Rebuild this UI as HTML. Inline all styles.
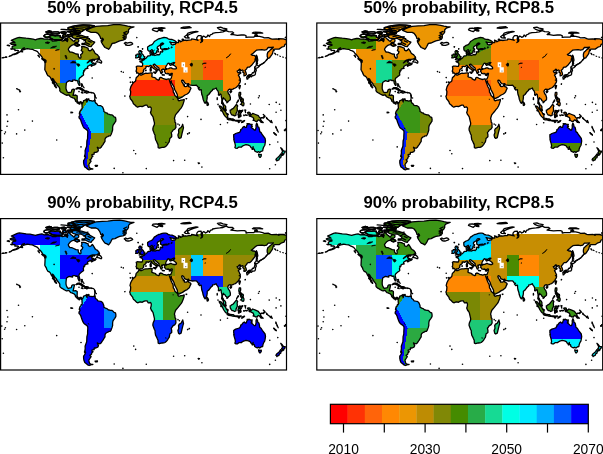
<!DOCTYPE html><html><head><meta charset="utf-8"><title>Time of emergence maps</title><style>html,body{margin:0;padding:0;background:#fff;overflow:hidden}svg{display:block}text{font-family:"Liberation Sans",Arial,sans-serif}</style></head><body>
<svg width="603" height="454" viewBox="0 0 603 454">
<defs><clipPath id="land"><path clip-rule="evenodd" d="M9.5,20.3L12.3,19.3L14.3,19.6L13.1,18.6L10.7,17.4L13.5,16.2L16.7,14.8L18.7,14.3L22.2,14.8L25.4,15.2L29.4,15.6L32.6,16.2L34.9,16.8L36.5,16.2L39.7,15.5L41.3,15.3L43.7,16.2L46.9,15.9L50.0,16.7L51.6,17.5L51.6,18.0L55.6,17.9L57.2,17.4L59.6,17.2L61.9,18.0L65.1,17.2L66.7,18.6L67.1,17.2L66.7,15.7L67.5,14.1L68.3,13.8L69.5,15.1L70.7,16.4L71.5,16.9L72.7,18.0L73.5,18.5L74.3,17.2L75.4,16.2L77.4,16.0L78.2,17.2L78.0,18.5L77.0,19.5L74.7,19.5L74.3,20.6L73.1,21.7L71.5,22.1L69.9,23.2L68.7,24.5L67.7,26.1L68.1,27.4L69.3,29.0L71.1,29.1L73.1,29.9L75.4,31.0L77.6,31.2L77.7,33.4L78.6,34.5L79.0,35.2L80.2,35.0L80.4,33.6L80.0,31.8L81.6,30.5L82.2,28.7L80.6,27.4L81.4,25.6L81.0,23.7L83.0,23.7L84.6,24.0L86.2,24.7L87.4,25.1L87.8,27.1L89.3,27.9L90.7,27.1L91.7,25.8L92.9,27.4L93.7,28.7L94.5,30.3L95.7,31.1L96.9,31.8L97.7,32.9L98.6,33.9L98.1,35.0L96.1,36.2L94.1,36.4L92.1,36.3L89.7,37.1L87.8,38.6L86.6,39.9L87.8,39.2L88.9,38.1L90.5,37.4L91.7,37.5L91.9,38.1L90.7,38.8L91.5,39.9L92.1,40.7L93.7,40.9L94.5,41.2L95.1,39.9L95.4,40.7L94.5,41.6L93.3,42.1L92.1,42.5L90.9,43.3L90.4,42.6L91.3,41.6L89.7,41.8L88.5,42.5L87.4,43.1L86.8,44.1L86.9,44.9L87.4,45.2L86.2,45.5L85.0,45.8L84.2,46.4L84.2,47.5L83.4,48.2L83.0,47.7L83.2,48.9L82.6,50.1L82.8,50.6L83.0,52.0L82.2,52.6L81.0,53.4L80.1,54.2L78.8,55.3L78.3,56.9L78.8,58.7L79.3,60.8L79.2,62.3L78.5,62.3L78.0,61.3L77.3,59.7L77.3,58.5L76.4,57.4L75.2,57.7L74.3,57.0L73.1,57.1L71.9,57.2L72.0,58.4L70.7,58.3L68.7,57.7L67.5,58.3L65.9,59.5L65.6,61.6L65.4,63.7L65.4,65.6L65.8,67.1L66.5,68.6L66.9,69.2L67.9,69.7L69.5,69.3L70.7,69.1L71.1,67.3L71.5,66.6L72.7,66.2L73.9,66.3L73.5,68.1L73.2,69.4L72.8,71.0L72.4,72.3L73.5,72.3L75.0,72.0L76.6,72.9L76.6,75.2L76.5,77.3L77.0,78.3L77.8,79.4L78.8,79.5L79.7,78.7L80.6,78.9L81.5,79.8L82.0,80.2L82.6,78.9L83.0,77.6L83.8,77.3L85.0,76.8L86.2,75.8L86.3,76.6L85.9,77.8L86.4,79.0L86.6,77.5L87.4,76.6L87.4,76.0L88.2,76.7L88.7,77.5L90.4,77.7L91.7,78.1L93.7,77.6L94.5,78.6L94.9,79.9L96.1,80.6L97.3,82.3L98.9,82.6L100.2,82.7L101.7,83.7L102.2,84.4L103.2,86.9L103.2,88.5L104.2,89.0L104.8,89.6L106.4,90.0L107.6,91.2L108.8,91.4L110.0,91.8L111.2,91.8L112.4,92.6L113.4,93.8L114.9,94.3L115.3,96.3L115.2,98.1L114.0,100.0L113.2,101.1L112.4,102.3L112.0,104.4L112.0,107.0L111.3,109.3L110.5,111.5L109.6,112.8L108.4,112.8L107.2,113.6L106.0,114.0L104.8,115.2L104.4,116.4L104.4,118.3L103.2,120.1L102.4,121.6L101.5,122.7L100.5,124.3L99.4,125.2L98.1,125.1L96.7,124.3L97.5,126.3L97.9,127.0L97.1,128.6L95.3,129.4L93.6,129.4L93.5,131.1L91.3,131.6L91.5,132.9L92.4,133.1L91.2,134.2L90.9,135.7L89.3,136.8L90.5,138.1L89.3,139.9L88.2,141.5L88.5,143.4L88.7,144.0L89.3,145.1L91.2,145.9L89.7,146.5L88.5,146.9L87.0,146.2L85.8,145.1L84.2,143.9L83.4,142.0L83.0,139.9L83.0,137.6L83.9,136.3L85.0,134.2L84.3,132.1L84.6,130.0L84.5,127.6L85.1,125.8L86.1,123.2L86.2,120.6L86.3,118.0L87.0,115.4L87.0,113.3L87.2,109.6L87.1,108.0L86.2,106.9L84.6,105.8L83.2,104.7L82.4,103.3L81.6,101.3L80.8,99.2L80.2,97.3L79.5,95.9L78.5,95.0L78.4,93.5L79.2,92.3L79.5,91.4L78.7,91.0L78.9,89.8L79.4,88.2L80.3,87.3L80.6,86.1L81.4,86.0L81.6,84.6L81.4,83.0L81.5,81.7L81.1,81.1L80.8,80.2L80.2,79.4L79.7,79.5L79.2,80.1L79.4,80.9L78.6,81.2L78.0,80.4L77.1,80.2L76.6,79.9L76.4,79.1L75.4,78.5L74.8,77.8L74.8,77.1L74.1,76.0L73.5,75.2L72.3,74.8L71.3,74.3L70.3,74.1L69.6,73.5L68.5,72.0L67.5,71.8L66.3,72.4L64.7,71.7L63.5,71.0L62.1,70.1L60.8,69.5L59.6,68.4L59.1,67.3L59.3,66.3L58.8,64.7L57.6,63.2L56.4,61.9L56.0,60.6L55.2,59.6L54.2,58.7L53.4,57.2L52.8,56.1L51.8,55.5L51.9,56.9L53.0,58.7L53.8,60.4L54.8,62.1L55.4,63.5L56.0,64.5L55.6,64.8L55.0,64.0L54.0,63.1L53.8,61.6L52.8,60.8L51.8,59.7L52.3,59.0L51.6,57.9L50.9,56.9L50.2,55.3L49.9,54.6L48.8,53.3L47.3,52.7L46.1,50.6L45.7,49.3L44.6,47.5L44.2,46.6L44.3,44.9L44.4,42.8L44.5,40.5L43.9,38.2L45.3,39.2L45.4,37.6L44.1,36.5L42.1,35.5L41.3,33.9L39.7,31.8L38.5,30.8L36.9,28.7L34.9,27.7L33.8,27.4L31.8,26.3L29.4,26.1L27.0,25.6L25.4,25.9L24.2,26.3L22.4,26.9L22.6,25.6L23.8,24.9L22.2,25.4L21.0,26.6L20.5,27.9L18.7,29.2L17.1,30.3L15.1,31.1L13.5,31.5L12.1,31.7L13.9,30.8L15.5,30.3L17.1,29.2L17.9,27.7L17.1,27.4L15.5,27.4L14.3,27.5L14.3,26.1L12.7,26.1L11.7,25.5L11.5,24.0L12.1,23.2L13.1,22.8L15.1,22.4L15.1,21.4L13.5,21.4L11.9,21.4L10.7,21.3ZM108.0,26.3L106.4,25.3L104.4,24.5L103.2,23.0L102.1,21.4L100.9,19.3L100.5,17.8L102.4,16.2L100.1,15.7L99.7,14.1L98.9,12.5L97.3,10.4L95.3,9.4L90.5,9.4L88.2,8.4L85.8,7.3L88.9,5.7L91.3,4.7L95.3,3.3L101.7,2.8L107.2,2.6L112.8,1.7L119.1,1.6L123.9,2.3L127.1,3.1L130.2,3.7L133.4,3.9L129.4,5.2L127.9,6.8L127.9,8.9L127.1,10.4L125.5,12.0L125.5,13.6L125.5,15.1L123.1,15.5L124.7,16.2L122.3,17.2L119.1,17.8L116.7,18.8L114.4,20.0L111.6,20.4L110.8,21.9L110.0,23.5L109.0,25.1ZM163.4,14.5L165.2,14.6L166.8,15.1L167.6,15.9L169.2,16.3L171.5,16.5L173.5,17.4L174.7,18.0L175.7,19.0L174.7,19.6L173.1,19.7L170.7,19.3L169.2,19.0L170.3,20.0L170.6,21.4L172.3,22.0L173.1,21.4L174.7,21.3L175.1,20.4L176.3,19.4L177.9,19.6L178.1,18.3L177.7,17.2L179.5,17.8L179.9,18.8L181.1,18.2L182.7,17.5L185.0,17.2L185.8,17.5L188.2,17.1L190.6,16.9L191.0,15.9L193.8,16.4L196.2,16.9L197.4,17.4L196.2,16.2L196.2,14.6L197.7,12.7L200.5,12.6L200.8,14.1L200.4,15.7L200.9,17.2L201.3,18.3L200.1,19.5L201.7,18.5L202.1,16.9L201.6,15.7L202.1,13.6L202.9,13.1L204.1,13.6L204.9,14.4L206.5,13.6L207.3,12.0L208.9,13.6L209.7,11.8L212.0,11.0L212.0,10.4L215.2,9.7L219.2,9.3L222.4,8.9L225.5,7.6L227.9,8.7L231.9,8.9L233.1,9.9L230.3,11.5L232.7,11.7L236.7,12.3L240.6,12.0L243.8,12.0L245.4,12.7L245.4,14.4L247.8,14.1L250.2,14.1L253.3,14.1L254.1,13.1L258.9,13.3L262.1,14.1L263.7,14.8L267.6,14.6L270.0,15.7L271.6,16.1L276.4,15.9L278.4,16.7L278.0,15.7L282.7,15.9L285.9,16.8L285.9,20.9L284.3,21.4L283.5,23.5L281.1,24.2L278.4,26.1L274.8,26.1L273.2,26.3L272.4,28.4L272.0,30.3L271.4,31.3L270.0,33.4L268.8,35.0L267.4,35.5L266.6,33.4L266.6,31.3L267.2,29.2L268.4,28.2L270.0,26.6L271.6,25.6L272.8,24.2L270.4,24.5L267.6,24.5L266.0,26.6L263.7,27.1L261.3,26.6L258.1,26.8L256.1,27.1L254.1,28.7L252.5,30.3L250.6,31.6L252.1,32.4L253.7,32.4L254.9,33.4L255.2,34.5L254.5,36.0L254.4,38.1L252.9,39.9L251.0,42.3L249.0,44.1L247.4,44.1L246.6,44.6L246.0,45.9L244.4,47.5L245.4,49.6L245.8,51.4L245.0,52.4L243.4,52.8L243.3,51.7L243.6,50.1L242.2,49.1L242.5,47.5L241.7,47.0L239.8,48.0L239.3,48.2L239.8,46.5L239.0,46.2L237.5,47.7L236.5,48.0L237.1,49.1L237.6,49.9L238.9,49.3L240.2,49.7L240.1,50.3L238.6,51.2L237.7,52.2L238.5,53.3L239.0,54.8L239.7,55.9L239.7,56.5L238.6,57.1L239.8,57.4L239.7,58.5L239.4,59.5L238.6,60.6L237.9,62.1L236.8,63.2L235.9,64.2L234.7,65.0L233.5,65.4L232.3,66.1L230.7,66.5L230.3,67.6L230.1,66.3L229.1,66.1L227.9,66.8L227.1,68.4L227.8,70.5L229.0,72.0L229.8,74.7L229.7,76.7L228.3,77.8L227.8,78.0L227.5,78.8L226.3,79.8L226.2,78.3L225.1,77.7L224.6,76.4L223.2,75.5L222.8,74.7L222.4,75.7L221.8,77.3L221.8,79.0L222.6,80.1L223.2,81.7L224.2,82.3L225.1,83.7L225.1,85.8L225.7,87.3L225.1,87.3L223.4,85.8L222.8,84.1L222.6,82.2L221.6,80.6L221.0,80.4L221.2,78.3L221.3,76.2L220.8,74.1L220.5,71.5L219.8,71.0L218.6,72.3L217.8,72.0L218.0,70.0L217.4,68.1L216.0,66.3L215.6,65.0L214.8,65.5L213.6,66.0L212.0,66.3L211.9,67.3L210.5,68.4L209.3,70.0L208.2,71.5L206.6,72.6L206.6,74.7L206.3,76.7L205.9,78.0L205.1,79.5L204.5,80.3L203.5,78.8L202.5,76.2L202.0,73.6L201.2,71.5L200.8,68.9L200.7,66.8L200.3,66.6L198.9,67.0L197.7,65.6L198.7,64.7L197.4,64.2L196.4,62.9L195.8,62.2L193.8,62.3L191.8,62.4L190.2,62.1L188.5,61.9L188.1,60.6L186.4,61.0L185.0,60.6L183.8,59.6L183.1,57.9L181.9,57.1L181.1,57.4L181.1,58.2L181.7,59.7L182.8,61.1L182.8,62.1L183.5,61.5L183.8,62.1L183.8,63.4L185.0,63.6L186.2,63.4L187.5,61.4L187.8,63.2L188.6,63.9L189.6,64.2L190.4,65.3L189.4,67.3L188.8,68.9L187.8,70.0L186.6,71.0L184.4,72.0L181.9,73.8L178.7,75.4L177.5,75.5L176.9,73.3L176.7,71.5L175.5,69.1L174.1,66.5L173.4,63.9L172.5,62.3L171.1,60.0L170.7,59.3L170.7,57.9L170.2,59.5L169.6,59.2L168.8,57.5L169.6,59.7L170.3,61.6L171.1,63.7L172.3,65.8L172.6,67.3L172.7,69.2L173.7,70.5L174.3,72.6L175.7,73.8L177.3,75.7L177.3,76.7L178.3,77.8L180.3,77.1L181.9,77.0L183.6,76.3L183.5,77.9L182.7,80.4L181.7,83.0L180.7,84.8L179.1,86.7L177.5,88.8L175.9,90.6L174.9,91.9L174.3,93.8L173.8,95.5L174.3,97.1L174.4,99.2L175.1,99.9L175.2,102.3L175.3,104.4L174.3,106.0L172.3,107.3L171.5,108.6L170.6,109.6L171.1,111.7L171.1,113.8L169.2,115.4L169.0,116.9L168.6,118.8L167.6,120.1L166.8,121.6L165.6,123.0L164.4,123.9L163.2,124.3L161.6,124.4L160.4,124.6L158.8,125.1L157.6,124.6L157.5,123.0L157.4,121.6L156.6,119.9L156.0,118.5L155.0,116.7L154.5,113.8L154.5,112.2L153.7,110.7L152.9,108.4L152.3,107.0L152.3,105.5L152.7,103.9L153.7,101.8L153.9,100.2L153.4,98.1L152.7,95.0L152.5,94.0L151.8,92.9L150.7,91.4L149.9,89.5L150.5,87.7L150.7,85.6L150.5,84.7L149.7,83.9L148.5,84.2L147.7,84.3L146.9,83.0L146.5,82.2L144.9,82.2L143.7,82.6L142.2,83.3L141.4,83.7L140.6,83.4L139.4,83.3L138.2,83.7L137.0,84.2L135.8,83.5L134.6,82.2L133.8,81.5L133.0,80.9L132.4,79.9L132.2,78.8L131.2,77.5L130.6,76.7L129.7,75.8L129.6,74.7L129.1,73.4L129.8,72.0L130.0,70.0L130.1,68.4L129.4,66.8L129.8,65.3L130.2,63.9L131.1,62.1L131.8,61.1L132.6,59.8L133.8,59.0L135.0,57.9L135.2,56.6L135.6,54.8L136.6,53.8L137.5,53.0L138.2,51.7L138.7,51.3L139.8,52.0L141.0,52.0L142.2,51.4L143.7,50.6L145.3,50.2L146.9,50.3L148.5,50.1L150.1,49.9L151.1,49.9L151.7,50.1L151.3,51.2L151.5,52.4L151.1,53.0L151.3,53.7L152.1,54.1L153.3,54.4L155.1,55.0L155.3,55.9L156.8,56.6L158.0,57.1L158.8,56.4L158.8,55.0L160.0,54.4L161.2,54.7L162.8,55.7L164.4,56.1L166.0,56.5L167.6,55.9L168.6,56.1L170.1,56.1L170.6,55.0L171.1,53.4L171.5,51.7L171.7,50.5L170.7,50.4L170.0,50.8L168.8,51.1L167.2,50.3L167.2,50.8L166.0,50.6L164.8,50.3L164.6,49.4L163.8,48.6L164.2,47.5L163.8,47.0L164.2,46.6L166.0,46.4L166.1,45.8L168.0,45.7L169.6,44.9L170.7,44.9L171.9,45.6L173.5,45.9L175.1,45.9L175.9,45.3L175.7,44.4L174.7,43.3L173.5,42.4L172.7,42.1L172.3,41.5L173.1,40.7L174.1,39.6L173.1,39.5L171.0,40.4L170.7,41.0L171.9,41.6L171.0,42.0L169.7,42.4L168.8,41.3L169.7,40.6L168.4,40.5L167.6,40.1L166.8,40.9L166.5,41.6L165.7,42.8L165.2,43.9L164.9,44.4L165.3,45.4L166.0,45.7L164.8,46.0L164.2,46.5L163.6,46.3L162.4,46.0L161.9,46.7L161.0,46.6L161.1,47.5L161.5,48.2L162.0,49.1L161.2,49.6L161.1,50.5L160.4,50.4L160.0,49.6L159.8,48.8L159.2,47.7L158.4,46.5L158.4,45.2L157.6,44.4L156.5,43.5L155.3,42.5L154.5,41.6L153.8,41.1L152.7,41.5L152.8,42.5L153.8,43.3L154.5,44.6L155.7,45.0L156.6,46.0L157.6,46.8L157.5,47.2L156.5,46.6L156.1,47.3L156.5,48.0L155.8,49.1L155.4,49.1L155.7,48.0L155.1,46.9L154.3,46.3L153.3,45.7L152.6,45.1L151.7,44.4L151.1,43.3L150.5,42.6L149.9,42.4L148.9,43.0L148.1,43.7L146.9,43.4L146.1,43.3L145.3,43.6L145.5,44.6L144.7,45.6L143.6,46.0L142.8,47.4L143.1,48.2L142.4,49.3L141.4,50.3L139.5,50.4L138.7,51.1L137.9,50.4L137.4,49.9L136.0,50.1L136.0,48.6L135.4,48.2L135.9,46.8L136.0,45.1L135.6,43.7L136.6,43.1L138.6,43.2L140.2,43.4L141.5,43.4L142.0,42.1L142.1,40.7L141.2,39.5L139.5,38.8L139.2,38.2L140.6,37.8L141.7,38.0L141.5,36.9L142.2,37.2L143.1,37.1L144.1,36.3L144.3,35.6L145.6,35.1L146.3,34.2L146.8,33.4L147.7,32.9L148.5,32.8L149.7,32.7L149.9,31.8L149.5,30.8L149.4,29.2L150.5,29.0L151.4,28.5L151.1,29.7L151.6,30.0L150.8,31.0L150.7,31.5L151.7,32.2L152.9,32.0L153.9,32.2L154.3,32.5L156.1,31.8L157.5,31.5L158.4,32.0L158.8,31.4L159.6,30.8L159.6,29.4L160.1,28.6L161.6,29.2L162.2,28.4L161.6,27.5L161.6,26.9L163.2,26.5L165.2,26.6L166.9,26.2L165.7,25.6L164.0,25.7L162.4,26.1L161.1,26.2L160.0,25.5L159.9,24.2L159.9,23.0L160.8,22.1L162.4,21.1L163.1,20.7L162.2,20.0L160.6,20.3L159.9,21.4L159.4,22.2L157.6,23.2L156.7,24.2L156.6,25.4L157.9,26.1L157.6,26.9L156.5,27.5L156.1,28.4L155.9,29.8L155.4,30.2L154.3,30.7L153.3,30.9L153.0,30.1L152.5,28.7L151.9,27.5L151.4,26.6L150.5,27.3L149.3,28.1L148.5,28.2L147.5,27.5L147.1,26.6L147.0,25.1L147.0,24.0L148.1,23.2L149.3,22.4L150.9,21.9L152.1,20.9L152.9,19.8L153.7,18.5L155.3,17.5L156.5,16.7L158.0,15.9L159.6,15.5L161.6,14.8ZM94.1,19.2L92.9,20.9L91.3,22.4L90.5,23.7L88.5,23.3L86.6,22.4L84.6,21.4L81.4,21.6L81.4,20.4L84.2,20.4L85.0,18.8L85.0,17.4L81.8,16.2L80.2,15.3L76.2,15.7L73.1,15.1L71.5,14.1L72.3,12.0L75.4,11.7L78.6,12.0L81.8,12.7L85.0,13.8L87.8,15.1L89.3,16.7L92.1,18.3ZM50.0,15.1L52.4,16.4L56.4,16.9L59.6,16.7L61.9,16.2L62.7,15.1L59.6,14.1L59.6,12.7L57.2,12.3L54.8,12.8L51.6,12.2L48.8,13.1L48.4,14.1ZM43.7,13.7L45.3,14.4L47.3,14.1L49.2,13.1L50.8,12.2L50.0,11.3L46.9,11.0L44.5,11.7L43.3,12.7ZM79.4,9.1L81.4,8.4L83.4,6.8L86.6,5.5L91.3,4.2L93.7,2.8L88.9,2.1L82.6,2.0L75.4,2.6L70.7,3.7L73.1,4.7L74.7,6.3L73.1,7.3L75.4,8.0L73.1,8.9L76.2,9.1ZM79.4,10.4L77.8,10.9L73.1,11.0L69.9,10.7L69.9,9.2L66.7,8.6L71.5,8.6L74.7,9.7L79.4,9.6ZM73.9,6.3L70.7,7.1L67.5,6.1L67.5,4.7L70.7,4.0L73.1,5.0ZM58.8,10.4L55.6,10.9L51.6,10.7L50.0,9.4L54.0,8.9L57.2,8.9L59.2,9.6ZM65.1,10.4L61.2,10.2L60.4,9.1L63.5,8.6L65.5,9.4ZM65.9,13.6L63.5,14.1L61.9,13.1L62.7,11.7L65.1,11.6ZM71.1,13.1L67.5,13.6L67.1,11.7L69.9,11.4L71.5,12.0ZM50.0,9.1L46.1,9.5L45.3,8.9L48.4,7.9L50.8,8.4ZM67.1,16.7L65.1,16.9L63.9,16.4L65.1,15.7L66.7,15.9ZM79.0,22.4L76.6,23.2L74.7,22.4L73.9,21.4L75.4,20.0L76.6,20.9L78.6,21.6ZM98.9,34.9L98.1,36.0L96.9,37.6L95.9,38.8L98.5,39.2L100.1,40.0L100.9,40.0L101.1,38.9L100.5,37.9L99.7,37.1L98.5,36.5ZM91.7,36.6L93.7,37.5L93.9,37.3L92.5,36.6ZM91.9,39.9L93.7,40.6L93.5,40.2L92.5,39.8ZM41.1,35.7L42.9,37.4L44.9,38.3L44.6,37.3L43.3,36.2L41.9,35.6ZM37.3,32.3L38.8,34.2L38.4,32.9L38.3,32.4ZM20.3,28.7L22.0,28.9L21.8,28.0L21.0,28.2ZM6.6,22.4L8.7,23.0L8.9,22.6L7.5,22.1ZM10.1,25.9L11.4,26.3L11.3,25.7ZM11.9,31.7L13.3,31.5L12.3,31.3ZM9.1,33.2L10.3,32.9L10.9,32.4ZM4.4,34.4L6.0,34.0L4.8,34.0ZM1.6,34.8L3.2,34.7L2.4,34.5ZM75.5,65.9L77.0,64.8L79.0,64.6L81.0,65.5L83.0,67.0L84.0,67.7L81.4,68.0L81.6,67.2L80.6,66.6L79.0,65.8L77.8,65.4L76.6,65.8ZM83.9,69.5L85.4,69.7L86.2,70.3L87.4,69.6L88.6,69.5L87.8,68.6L86.2,68.0L84.7,68.0L85.3,68.9ZM80.8,69.6L82.4,70.1L82.2,69.6L81.2,69.4ZM89.6,69.5L90.8,69.9L90.8,69.5L89.7,69.4ZM93.9,77.7L94.5,78.1L94.5,77.5ZM80.8,62.6L81.2,63.7L81.2,62.6ZM81.4,60.8L81.8,61.3L81.1,60.9ZM94.5,142.5L96.9,142.4L96.5,143.3L94.9,143.3ZM91.5,145.9L92.3,145.9L91.9,146.1ZM84.0,132.5L84.6,133.1L84.4,134.1L83.9,133.6ZM70.3,89.1L70.8,89.7L70.4,89.8ZM19.1,67.7L19.9,68.4L19.3,68.9L19.1,68.2ZM18.5,66.8L19.1,67.1L18.8,67.2ZM17.3,66.2L17.7,66.5L17.4,66.5ZM16.1,65.6L16.4,65.8L16.2,65.9ZM138.6,36.4L140.2,36.1L142.2,35.8L144.0,35.3L143.6,35.0L144.3,33.7L143.2,33.4L142.8,32.1L141.8,31.1L141.2,30.3L140.6,30.2L141.4,28.6L139.9,28.5L140.4,27.6L139.0,27.6L138.2,28.7L138.6,30.3L139.1,30.8L139.0,31.5L140.2,31.4L140.6,32.4L140.6,33.0L139.4,33.2L139.6,34.1L138.8,34.7L140.2,35.1L139.4,35.5ZM135.0,34.8L136.6,34.8L137.9,34.1L138.2,32.9L138.5,31.7L137.8,31.1L136.4,31.1L136.2,32.0L135.0,32.2L135.4,33.2L135.2,34.1ZM151.7,6.8L154.1,7.8L156.5,8.7L158.0,7.3L160.0,6.8L157.2,5.7L155.7,5.2L152.5,5.5ZM157.6,5.0L160.4,5.8L164.4,5.2L161.2,4.7ZM159.6,7.8L162.0,8.0L162.0,7.1L160.0,7.1ZM180.3,5.0L184.2,5.3L190.6,4.7L189.0,3.7L182.7,4.2ZM183.8,13.8L185.0,14.8L188.6,15.0L187.0,13.6L187.4,12.3L185.8,12.2ZM186.2,11.8L187.8,12.0L189.8,11.0L193.0,9.7L197.4,8.6L195.4,8.4L190.6,9.2L187.4,10.1ZM181.5,16.4L182.5,16.9L182.9,16.4L182.1,16.1ZM218.4,6.1L221.6,7.3L225.5,7.0L226.3,6.0L222.4,5.2L220.0,4.2L216.8,4.7ZM251.8,10.1L255.7,10.7L258.1,9.9L262.1,10.2L259.7,9.4L254.9,9.2L252.9,9.4ZM254.1,12.1L256.9,12.3L255.7,11.6ZM284.7,14.5L285.9,14.7L285.9,14.1L285.1,14.1ZM255.7,32.1L256.5,33.4L256.8,35.0L257.2,37.1L256.5,39.2L256.9,40.5L255.7,40.7L255.9,38.6L255.7,36.5L255.6,34.5ZM239.0,62.4L238.4,64.2L238.9,65.8L239.4,64.2L239.8,62.6ZM229.3,68.6L229.9,69.7L230.7,69.1L231.1,68.2L230.3,67.8ZM238.6,69.4L240.0,69.4L240.1,71.5L239.4,73.1L240.2,74.1L241.4,75.2L241.0,75.4L239.8,74.3L238.9,74.3L238.4,73.3L238.2,71.8ZM239.8,81.4L241.0,80.7L241.0,79.8L242.6,78.6L243.4,80.4L243.2,82.2L242.6,82.8L241.4,82.3L240.9,81.0ZM241.0,76.7L241.8,75.7L242.6,75.9L242.8,77.3L242.2,78.2L241.4,78.1L240.9,78.9L240.2,78.3L239.8,76.4L240.6,76.6ZM236.0,80.0L237.9,77.8L237.7,77.0L236.7,78.8ZM238.6,74.8L239.4,75.1L239.2,75.9ZM229.5,87.2L230.3,87.0L231.3,86.1L232.7,85.4L233.9,83.8L235.1,82.3L235.9,81.4L237.1,83.0L236.5,84.3L236.7,86.1L236.7,87.7L236.3,88.8L235.5,90.3L235.3,92.4L233.9,92.9L232.7,92.1L231.5,92.1L230.5,90.8L229.7,89.3ZM218.6,82.9L220.4,83.3L221.6,84.9L222.8,86.5L224.0,87.7L225.1,88.8L225.9,90.8L227.1,91.9L227.0,94.8L225.9,94.6L224.4,93.1L223.2,91.4L222.2,89.3L221.2,87.2L220.0,85.6L218.8,83.7ZM226.5,95.5L227.5,95.0L229.1,95.5L230.7,95.9L232.5,96.0L233.8,96.9L233.8,97.7L231.9,97.5L229.9,96.9L228.3,96.8L226.7,96.1ZM234.3,97.3L235.9,97.4L237.5,97.4L237.1,98.0L235.1,98.0ZM238.1,97.5L240.6,97.3L240.5,97.9L238.2,98.0ZM241.0,99.5L242.2,98.1L244.0,97.5L243.4,98.4L241.8,99.4ZM237.5,98.7L238.9,99.0L238.2,99.5ZM238.1,87.9L239.0,87.4L240.6,87.8L242.2,87.1L241.8,88.3L239.4,88.2L238.5,89.6L239.4,89.8L240.9,89.6L239.8,90.6L240.5,92.9L240.0,93.8L239.4,92.4L238.6,91.7L238.6,94.5L237.9,94.5L237.8,92.4L237.3,91.6L238.0,89.3ZM244.2,86.9L244.6,88.2L245.0,89.6L244.6,87.9L245.2,87.2ZM244.6,91.9L246.8,92.1L245.8,92.4ZM243.0,92.1L244.0,92.3L243.4,92.7ZM247.0,89.6L248.2,89.2L249.4,89.6L250.2,92.2L252.1,90.4L254.9,91.5L257.7,92.7L258.9,94.5L260.3,95.2L259.9,96.3L260.9,98.1L262.6,99.6L260.5,99.4L258.9,97.4L257.7,96.8L256.5,98.4L254.9,98.3L253.3,97.2L252.5,97.5L253.2,96.1L252.5,94.5L250.2,93.3L248.6,93.0L248.4,91.7L249.5,92.7L249.1,91.2L247.9,91.0L247.0,90.1ZM260.7,94.6L262.5,94.5L263.8,93.1L263.8,94.0L262.9,95.0ZM262.7,91.5L264.3,92.9L264.5,93.7L263.7,92.4ZM265.8,94.5L266.8,95.9L266.2,95.5ZM269.6,98.5L270.7,99.1L270.0,99.0ZM270.6,97.5L271.2,98.8L270.8,98.1ZM206.3,78.7L207.4,79.9L207.9,81.4L207.3,82.3L206.6,82.5L206.3,80.9ZM182.1,101.3L182.9,104.9L182.3,107.0L181.5,110.2L180.5,114.6L178.9,115.4L177.9,114.6L177.3,112.0L178.2,109.6L177.9,107.0L178.7,105.5L180.3,104.7L181.3,103.1ZM152.9,49.1L155.3,48.9L154.9,50.4L153.7,49.9ZM149.5,45.9L150.6,45.9L150.6,47.8L149.7,48.0ZM149.9,44.4L150.5,44.1L150.4,45.4L149.9,45.3ZM161.7,51.7L163.8,52.0L163.6,52.2L161.7,52.0ZM168.6,52.2L170.3,51.6L169.6,52.5ZM144.9,47.4L145.6,47.2L145.3,47.7ZM151.8,30.6L152.9,30.3L152.7,31.3L151.9,31.1ZM157.4,29.0L158.0,28.3L157.9,28.8ZM129.6,59.2L130.1,59.0L129.8,59.5ZM131.6,59.4L132.0,58.8L131.9,59.3ZM124.1,73.0L124.4,72.9L124.3,73.2ZM185.4,75.6L186.2,75.6L185.8,75.9ZM177.3,100.8L177.5,101.1L177.3,101.2ZM186.9,110.7L187.3,110.9L187.0,111.1ZM188.5,109.7L188.9,109.9L188.6,110.2ZM197.6,139.9L198.9,140.1L198.1,140.6ZM137.2,23.8L137.8,23.7L137.5,24.2ZM141.8,25.6L142.2,25.8L141.9,26.2ZM258.9,42.3L260.9,41.2L259.7,41.8ZM262.1,40.7L263.7,39.5L262.9,39.9ZM265.6,37.3L266.8,36.0L266.3,36.5ZM274.6,31.0L275.2,31.5L274.9,31.0ZM272.8,27.1L273.6,27.6L273.2,26.9ZM244.4,61.1L244.8,60.8L244.5,61.4ZM216.6,74.7L216.8,76.2L216.5,76.5ZM217.4,81.2L217.5,81.7L217.3,81.5ZM220.1,87.3L220.7,88.1L220.3,87.8ZM226.6,90.6L227.7,91.4L227.1,91.9ZM233.1,111.7L233.6,111.5L235.1,110.5L237.1,109.9L239.0,109.3L240.1,107.5L240.1,106.5L241.2,106.0L242.2,104.4L243.7,103.4L244.8,104.4L245.8,104.3L246.2,102.3L247.0,101.5L248.3,100.6L250.2,101.5L251.6,101.3L251.0,102.8L250.6,104.4L252.1,105.5L253.7,107.0L254.8,107.0L255.5,104.4L255.4,102.1L256.1,100.0L256.9,101.8L257.2,103.7L258.3,104.4L258.9,107.0L259.1,108.6L260.5,109.6L261.7,111.7L262.7,113.0L264.5,115.4L264.9,118.0L264.5,120.6L264.1,122.5L263.1,124.0L262.3,126.3L262.1,127.9L260.5,128.3L259.1,129.5L257.9,128.6L256.9,129.3L255.3,128.7L254.1,127.9L253.7,126.1L252.7,125.9L252.5,123.7L252.1,125.5L251.0,125.1L250.6,124.8L249.5,123.0L247.8,122.2L245.4,121.7L243.0,122.5L241.4,123.4L240.9,124.1L238.2,124.1L236.7,125.3L235.1,125.2L234.3,124.6L234.8,122.7L234.4,120.6L233.6,118.0L233.1,115.9L233.6,116.1L233.1,114.3ZM257.9,131.2L259.3,131.7L260.7,131.5L260.6,133.1L259.7,134.3L258.9,134.2L258.3,132.9ZM280.1,124.7L281.4,125.8L282.3,127.2L283.0,128.0L284.7,128.1L284.2,129.7L283.5,130.0L283.1,131.4L282.1,132.2L281.8,131.9L282.1,130.7L281.0,129.9L281.7,129.3L281.8,127.9L281.1,126.5ZM280.1,131.0L281.3,131.9L280.3,133.6L280.2,134.6L278.9,135.2L278.4,136.8L277.0,137.4L275.3,136.8L276.0,135.4L277.2,134.5L278.8,133.1L279.4,132.1ZM276.1,137.7L276.5,137.7L276.3,138.0ZM273.2,109.7L275.2,111.3L275.6,112.0L274.4,111.3ZM275.3,104.4L275.7,105.1L275.4,105.0ZM276.5,107.1L276.8,107.3L276.6,107.4ZM283.8,107.0L284.8,107.2L284.3,107.8L283.8,107.5ZM284.9,106.0L285.9,105.7L285.3,106.3ZM246.4,100.7L247.4,100.7L247.0,101.1ZM251.4,103.2L251.7,103.4L251.4,103.6ZM251.4,126.1L252.5,126.1L252.0,126.4ZM180.9,39.3h3.6v4.9h-3.6zM182.8,44.2h4.2v5.4h-4.2z"/></clipPath>
<clipPath id="box"><rect x="0" y="0" width="285.9" height="151.4"/></clipPath>
<g id="coast"><path d="M9.5,20.3L12.3,19.3L14.3,19.6L13.1,18.6L10.7,17.4L13.5,16.2L16.7,14.8L18.7,14.3L22.2,14.8L25.4,15.2L29.4,15.6L32.6,16.2L34.9,16.8L36.5,16.2L39.7,15.5L41.3,15.3L43.7,16.2L46.9,15.9L50.0,16.7L51.6,17.5L51.6,18.0L55.6,17.9L57.2,17.4L59.6,17.2L61.9,18.0L65.1,17.2L66.7,18.6L67.1,17.2L66.7,15.7L67.5,14.1L68.3,13.8L69.5,15.1L70.7,16.4L71.5,16.9L72.7,18.0L73.5,18.5L74.3,17.2L75.4,16.2L77.4,16.0L78.2,17.2L78.0,18.5L77.0,19.5L74.7,19.5L74.3,20.6L73.1,21.7L71.5,22.1L69.9,23.2L68.7,24.5L67.7,26.1L68.1,27.4L69.3,29.0L71.1,29.1L73.1,29.9L75.4,31.0L77.6,31.2L77.7,33.4L78.6,34.5L79.0,35.2L80.2,35.0L80.4,33.6L80.0,31.8L81.6,30.5L82.2,28.7L80.6,27.4L81.4,25.6L81.0,23.7L83.0,23.7L84.6,24.0L86.2,24.7L87.4,25.1L87.8,27.1L89.3,27.9L90.7,27.1L91.7,25.8L92.9,27.4L93.7,28.7L94.5,30.3L95.7,31.1L96.9,31.8L97.7,32.9L98.6,33.9L98.1,35.0L96.1,36.2L94.1,36.4L92.1,36.3L89.7,37.1L87.8,38.6L86.6,39.9L87.8,39.2L88.9,38.1L90.5,37.4L91.7,37.5L91.9,38.1L90.7,38.8L91.5,39.9L92.1,40.7L93.7,40.9L94.5,41.2L95.1,39.9L95.4,40.7L94.5,41.6L93.3,42.1L92.1,42.5L90.9,43.3L90.4,42.6L91.3,41.6L89.7,41.8L88.5,42.5L87.4,43.1L86.8,44.1L86.9,44.9L87.4,45.2L86.2,45.5L85.0,45.8L84.2,46.4L84.2,47.5L83.4,48.2L83.0,47.7L83.2,48.9L82.6,50.1L82.8,50.6L83.0,52.0L82.2,52.6L81.0,53.4L80.1,54.2L78.8,55.3L78.3,56.9L78.8,58.7L79.3,60.8L79.2,62.3L78.5,62.3L78.0,61.3L77.3,59.7L77.3,58.5L76.4,57.4L75.2,57.7L74.3,57.0L73.1,57.1L71.9,57.2L72.0,58.4L70.7,58.3L68.7,57.7L67.5,58.3L65.9,59.5L65.6,61.6L65.4,63.7L65.4,65.6L65.8,67.1L66.5,68.6L66.9,69.2L67.9,69.7L69.5,69.3L70.7,69.1L71.1,67.3L71.5,66.6L72.7,66.2L73.9,66.3L73.5,68.1L73.2,69.4L72.8,71.0L72.4,72.3L73.5,72.3L75.0,72.0L76.6,72.9L76.6,75.2L76.5,77.3L77.0,78.3L77.8,79.4L78.8,79.5L79.7,78.7L80.6,78.9L81.5,79.8L82.0,80.2L82.6,78.9L83.0,77.6L83.8,77.3L85.0,76.8L86.2,75.8L86.3,76.6L85.9,77.8L86.4,79.0L86.6,77.5L87.4,76.6L87.4,76.0L88.2,76.7L88.7,77.5L90.4,77.7L91.7,78.1L93.7,77.6L94.5,78.6L94.9,79.9L96.1,80.6L97.3,82.3L98.9,82.6L100.2,82.7L101.7,83.7L102.2,84.4L103.2,86.9L103.2,88.5L104.2,89.0L104.8,89.6L106.4,90.0L107.6,91.2L108.8,91.4L110.0,91.8L111.2,91.8L112.4,92.6L113.4,93.8L114.9,94.3L115.3,96.3L115.2,98.1L114.0,100.0L113.2,101.1L112.4,102.3L112.0,104.4L112.0,107.0L111.3,109.3L110.5,111.5L109.6,112.8L108.4,112.8L107.2,113.6L106.0,114.0L104.8,115.2L104.4,116.4L104.4,118.3L103.2,120.1L102.4,121.6L101.5,122.7L100.5,124.3L99.4,125.2L98.1,125.1L96.7,124.3L97.5,126.3L97.9,127.0L97.1,128.6L95.3,129.4L93.6,129.4L93.5,131.1L91.3,131.6L91.5,132.9L92.4,133.1L91.2,134.2L90.9,135.7L89.3,136.8L90.5,138.1L89.3,139.9L88.2,141.5L88.5,143.4L88.7,144.0L89.3,145.1L91.2,145.9L89.7,146.5L88.5,146.9L87.0,146.2L85.8,145.1L84.2,143.9L83.4,142.0L83.0,139.9L83.0,137.6L83.9,136.3L85.0,134.2L84.3,132.1L84.6,130.0L84.5,127.6L85.1,125.8L86.1,123.2L86.2,120.6L86.3,118.0L87.0,115.4L87.0,113.3L87.2,109.6L87.1,108.0L86.2,106.9L84.6,105.8L83.2,104.7L82.4,103.3L81.6,101.3L80.8,99.2L80.2,97.3L79.5,95.9L78.5,95.0L78.4,93.5L79.2,92.3L79.5,91.4L78.7,91.0L78.9,89.8L79.4,88.2L80.3,87.3L80.6,86.1L81.4,86.0L81.6,84.6L81.4,83.0L81.5,81.7L81.1,81.1L80.8,80.2L80.2,79.4L79.7,79.5L79.2,80.1L79.4,80.9L78.6,81.2L78.0,80.4L77.1,80.2L76.6,79.9L76.4,79.1L75.4,78.5L74.8,77.8L74.8,77.1L74.1,76.0L73.5,75.2L72.3,74.8L71.3,74.3L70.3,74.1L69.6,73.5L68.5,72.0L67.5,71.8L66.3,72.4L64.7,71.7L63.5,71.0L62.1,70.1L60.8,69.5L59.6,68.4L59.1,67.3L59.3,66.3L58.8,64.7L57.6,63.2L56.4,61.9L56.0,60.6L55.2,59.6L54.2,58.7L53.4,57.2L52.8,56.1L51.8,55.5L51.9,56.9L53.0,58.7L53.8,60.4L54.8,62.1L55.4,63.5L56.0,64.5L55.6,64.8L55.0,64.0L54.0,63.1L53.8,61.6L52.8,60.8L51.8,59.7L52.3,59.0L51.6,57.9L50.9,56.9L50.2,55.3L49.9,54.6L48.8,53.3L47.3,52.7L46.1,50.6L45.7,49.3L44.6,47.5L44.2,46.6L44.3,44.9L44.4,42.8L44.5,40.5L43.9,38.2L45.3,39.2L45.4,37.6L44.1,36.5L42.1,35.5L41.3,33.9L39.7,31.8L38.5,30.8L36.9,28.7L34.9,27.7L33.8,27.4L31.8,26.3L29.4,26.1L27.0,25.6L25.4,25.9L24.2,26.3L22.4,26.9L22.6,25.6L23.8,24.9L22.2,25.4L21.0,26.6L20.5,27.9L18.7,29.2L17.1,30.3L15.1,31.1L13.5,31.5L12.1,31.7L13.9,30.8L15.5,30.3L17.1,29.2L17.9,27.7L17.1,27.4L15.5,27.4L14.3,27.5L14.3,26.1L12.7,26.1L11.7,25.5L11.5,24.0L12.1,23.2L13.1,22.8L15.1,22.4L15.1,21.4L13.5,21.4L11.9,21.4L10.7,21.3ZM108.0,26.3L106.4,25.3L104.4,24.5L103.2,23.0L102.1,21.4L100.9,19.3L100.5,17.8L102.4,16.2L100.1,15.7L99.7,14.1L98.9,12.5L97.3,10.4L95.3,9.4L90.5,9.4L88.2,8.4L85.8,7.3L88.9,5.7L91.3,4.7L95.3,3.3L101.7,2.8L107.2,2.6L112.8,1.7L119.1,1.6L123.9,2.3L127.1,3.1L130.2,3.7L133.4,3.9L129.4,5.2L127.9,6.8L127.9,8.9L127.1,10.4L125.5,12.0L125.5,13.6L125.5,15.1L123.1,15.5L124.7,16.2L122.3,17.2L119.1,17.8L116.7,18.8L114.4,20.0L111.6,20.4L110.8,21.9L110.0,23.5L109.0,25.1ZM163.4,14.5L165.2,14.6L166.8,15.1L167.6,15.9L169.2,16.3L171.5,16.5L173.5,17.4L174.7,18.0L175.7,19.0L174.7,19.6L173.1,19.7L170.7,19.3L169.2,19.0L170.3,20.0L170.6,21.4L172.3,22.0L173.1,21.4L174.7,21.3L175.1,20.4L176.3,19.4L177.9,19.6L178.1,18.3L177.7,17.2L179.5,17.8L179.9,18.8L181.1,18.2L182.7,17.5L185.0,17.2L185.8,17.5L188.2,17.1L190.6,16.9L191.0,15.9L193.8,16.4L196.2,16.9L197.4,17.4L196.2,16.2L196.2,14.6L197.7,12.7L200.5,12.6L200.8,14.1L200.4,15.7L200.9,17.2L201.3,18.3L200.1,19.5L201.7,18.5L202.1,16.9L201.6,15.7L202.1,13.6L202.9,13.1L204.1,13.6L204.9,14.4L206.5,13.6L207.3,12.0L208.9,13.6L209.7,11.8L212.0,11.0L212.0,10.4L215.2,9.7L219.2,9.3L222.4,8.9L225.5,7.6L227.9,8.7L231.9,8.9L233.1,9.9L230.3,11.5L232.7,11.7L236.7,12.3L240.6,12.0L243.8,12.0L245.4,12.7L245.4,14.4L247.8,14.1L250.2,14.1L253.3,14.1L254.1,13.1L258.9,13.3L262.1,14.1L263.7,14.8L267.6,14.6L270.0,15.7L271.6,16.1L276.4,15.9L278.4,16.7L278.0,15.7L282.7,15.9L285.9,16.8L285.9,20.9L284.3,21.4L283.5,23.5L281.1,24.2L278.4,26.1L274.8,26.1L273.2,26.3L272.4,28.4L272.0,30.3L271.4,31.3L270.0,33.4L268.8,35.0L267.4,35.5L266.6,33.4L266.6,31.3L267.2,29.2L268.4,28.2L270.0,26.6L271.6,25.6L272.8,24.2L270.4,24.5L267.6,24.5L266.0,26.6L263.7,27.1L261.3,26.6L258.1,26.8L256.1,27.1L254.1,28.7L252.5,30.3L250.6,31.6L252.1,32.4L253.7,32.4L254.9,33.4L255.2,34.5L254.5,36.0L254.4,38.1L252.9,39.9L251.0,42.3L249.0,44.1L247.4,44.1L246.6,44.6L246.0,45.9L244.4,47.5L245.4,49.6L245.8,51.4L245.0,52.4L243.4,52.8L243.3,51.7L243.6,50.1L242.2,49.1L242.5,47.5L241.7,47.0L239.8,48.0L239.3,48.2L239.8,46.5L239.0,46.2L237.5,47.7L236.5,48.0L237.1,49.1L237.6,49.9L238.9,49.3L240.2,49.7L240.1,50.3L238.6,51.2L237.7,52.2L238.5,53.3L239.0,54.8L239.7,55.9L239.7,56.5L238.6,57.1L239.8,57.4L239.7,58.5L239.4,59.5L238.6,60.6L237.9,62.1L236.8,63.2L235.9,64.2L234.7,65.0L233.5,65.4L232.3,66.1L230.7,66.5L230.3,67.6L230.1,66.3L229.1,66.1L227.9,66.8L227.1,68.4L227.8,70.5L229.0,72.0L229.8,74.7L229.7,76.7L228.3,77.8L227.8,78.0L227.5,78.8L226.3,79.8L226.2,78.3L225.1,77.7L224.6,76.4L223.2,75.5L222.8,74.7L222.4,75.7L221.8,77.3L221.8,79.0L222.6,80.1L223.2,81.7L224.2,82.3L225.1,83.7L225.1,85.8L225.7,87.3L225.1,87.3L223.4,85.8L222.8,84.1L222.6,82.2L221.6,80.6L221.0,80.4L221.2,78.3L221.3,76.2L220.8,74.1L220.5,71.5L219.8,71.0L218.6,72.3L217.8,72.0L218.0,70.0L217.4,68.1L216.0,66.3L215.6,65.0L214.8,65.5L213.6,66.0L212.0,66.3L211.9,67.3L210.5,68.4L209.3,70.0L208.2,71.5L206.6,72.6L206.6,74.7L206.3,76.7L205.9,78.0L205.1,79.5L204.5,80.3L203.5,78.8L202.5,76.2L202.0,73.6L201.2,71.5L200.8,68.9L200.7,66.8L200.3,66.6L198.9,67.0L197.7,65.6L198.7,64.7L197.4,64.2L196.4,62.9L195.8,62.2L193.8,62.3L191.8,62.4L190.2,62.1L188.5,61.9L188.1,60.6L186.4,61.0L185.0,60.6L183.8,59.6L183.1,57.9L181.9,57.1L181.1,57.4L181.1,58.2L181.7,59.7L182.8,61.1L182.8,62.1L183.5,61.5L183.8,62.1L183.8,63.4L185.0,63.6L186.2,63.4L187.5,61.4L187.8,63.2L188.6,63.9L189.6,64.2L190.4,65.3L189.4,67.3L188.8,68.9L187.8,70.0L186.6,71.0L184.4,72.0L181.9,73.8L178.7,75.4L177.5,75.5L176.9,73.3L176.7,71.5L175.5,69.1L174.1,66.5L173.4,63.9L172.5,62.3L171.1,60.0L170.7,59.3L170.7,57.9L170.2,59.5L169.6,59.2L168.8,57.5L169.6,59.7L170.3,61.6L171.1,63.7L172.3,65.8L172.6,67.3L172.7,69.2L173.7,70.5L174.3,72.6L175.7,73.8L177.3,75.7L177.3,76.7L178.3,77.8L180.3,77.1L181.9,77.0L183.6,76.3L183.5,77.9L182.7,80.4L181.7,83.0L180.7,84.8L179.1,86.7L177.5,88.8L175.9,90.6L174.9,91.9L174.3,93.8L173.8,95.5L174.3,97.1L174.4,99.2L175.1,99.9L175.2,102.3L175.3,104.4L174.3,106.0L172.3,107.3L171.5,108.6L170.6,109.6L171.1,111.7L171.1,113.8L169.2,115.4L169.0,116.9L168.6,118.8L167.6,120.1L166.8,121.6L165.6,123.0L164.4,123.9L163.2,124.3L161.6,124.4L160.4,124.6L158.8,125.1L157.6,124.6L157.5,123.0L157.4,121.6L156.6,119.9L156.0,118.5L155.0,116.7L154.5,113.8L154.5,112.2L153.7,110.7L152.9,108.4L152.3,107.0L152.3,105.5L152.7,103.9L153.7,101.8L153.9,100.2L153.4,98.1L152.7,95.0L152.5,94.0L151.8,92.9L150.7,91.4L149.9,89.5L150.5,87.7L150.7,85.6L150.5,84.7L149.7,83.9L148.5,84.2L147.7,84.3L146.9,83.0L146.5,82.2L144.9,82.2L143.7,82.6L142.2,83.3L141.4,83.7L140.6,83.4L139.4,83.3L138.2,83.7L137.0,84.2L135.8,83.5L134.6,82.2L133.8,81.5L133.0,80.9L132.4,79.9L132.2,78.8L131.2,77.5L130.6,76.7L129.7,75.8L129.6,74.7L129.1,73.4L129.8,72.0L130.0,70.0L130.1,68.4L129.4,66.8L129.8,65.3L130.2,63.9L131.1,62.1L131.8,61.1L132.6,59.8L133.8,59.0L135.0,57.9L135.2,56.6L135.6,54.8L136.6,53.8L137.5,53.0L138.2,51.7L138.7,51.3L139.8,52.0L141.0,52.0L142.2,51.4L143.7,50.6L145.3,50.2L146.9,50.3L148.5,50.1L150.1,49.9L151.1,49.9L151.7,50.1L151.3,51.2L151.5,52.4L151.1,53.0L151.3,53.7L152.1,54.1L153.3,54.4L155.1,55.0L155.3,55.9L156.8,56.6L158.0,57.1L158.8,56.4L158.8,55.0L160.0,54.4L161.2,54.7L162.8,55.7L164.4,56.1L166.0,56.5L167.6,55.9L168.6,56.1L170.1,56.1L170.6,55.0L171.1,53.4L171.5,51.7L171.7,50.5L170.7,50.4L170.0,50.8L168.8,51.1L167.2,50.3L167.2,50.8L166.0,50.6L164.8,50.3L164.6,49.4L163.8,48.6L164.2,47.5L163.8,47.0L164.2,46.6L166.0,46.4L166.1,45.8L168.0,45.7L169.6,44.9L170.7,44.9L171.9,45.6L173.5,45.9L175.1,45.9L175.9,45.3L175.7,44.4L174.7,43.3L173.5,42.4L172.7,42.1L172.3,41.5L173.1,40.7L174.1,39.6L173.1,39.5L171.0,40.4L170.7,41.0L171.9,41.6L171.0,42.0L169.7,42.4L168.8,41.3L169.7,40.6L168.4,40.5L167.6,40.1L166.8,40.9L166.5,41.6L165.7,42.8L165.2,43.9L164.9,44.4L165.3,45.4L166.0,45.7L164.8,46.0L164.2,46.5L163.6,46.3L162.4,46.0L161.9,46.7L161.0,46.6L161.1,47.5L161.5,48.2L162.0,49.1L161.2,49.6L161.1,50.5L160.4,50.4L160.0,49.6L159.8,48.8L159.2,47.7L158.4,46.5L158.4,45.2L157.6,44.4L156.5,43.5L155.3,42.5L154.5,41.6L153.8,41.1L152.7,41.5L152.8,42.5L153.8,43.3L154.5,44.6L155.7,45.0L156.6,46.0L157.6,46.8L157.5,47.2L156.5,46.6L156.1,47.3L156.5,48.0L155.8,49.1L155.4,49.1L155.7,48.0L155.1,46.9L154.3,46.3L153.3,45.7L152.6,45.1L151.7,44.4L151.1,43.3L150.5,42.6L149.9,42.4L148.9,43.0L148.1,43.7L146.9,43.4L146.1,43.3L145.3,43.6L145.5,44.6L144.7,45.6L143.6,46.0L142.8,47.4L143.1,48.2L142.4,49.3L141.4,50.3L139.5,50.4L138.7,51.1L137.9,50.4L137.4,49.9L136.0,50.1L136.0,48.6L135.4,48.2L135.9,46.8L136.0,45.1L135.6,43.7L136.6,43.1L138.6,43.2L140.2,43.4L141.5,43.4L142.0,42.1L142.1,40.7L141.2,39.5L139.5,38.8L139.2,38.2L140.6,37.8L141.7,38.0L141.5,36.9L142.2,37.2L143.1,37.1L144.1,36.3L144.3,35.6L145.6,35.1L146.3,34.2L146.8,33.4L147.7,32.9L148.5,32.8L149.7,32.7L149.9,31.8L149.5,30.8L149.4,29.2L150.5,29.0L151.4,28.5L151.1,29.7L151.6,30.0L150.8,31.0L150.7,31.5L151.7,32.2L152.9,32.0L153.9,32.2L154.3,32.5L156.1,31.8L157.5,31.5L158.4,32.0L158.8,31.4L159.6,30.8L159.6,29.4L160.1,28.6L161.6,29.2L162.2,28.4L161.6,27.5L161.6,26.9L163.2,26.5L165.2,26.6L166.9,26.2L165.7,25.6L164.0,25.7L162.4,26.1L161.1,26.2L160.0,25.5L159.9,24.2L159.9,23.0L160.8,22.1L162.4,21.1L163.1,20.7L162.2,20.0L160.6,20.3L159.9,21.4L159.4,22.2L157.6,23.2L156.7,24.2L156.6,25.4L157.9,26.1L157.6,26.9L156.5,27.5L156.1,28.4L155.9,29.8L155.4,30.2L154.3,30.7L153.3,30.9L153.0,30.1L152.5,28.7L151.9,27.5L151.4,26.6L150.5,27.3L149.3,28.1L148.5,28.2L147.5,27.5L147.1,26.6L147.0,25.1L147.0,24.0L148.1,23.2L149.3,22.4L150.9,21.9L152.1,20.9L152.9,19.8L153.7,18.5L155.3,17.5L156.5,16.7L158.0,15.9L159.6,15.5L161.6,14.8ZM94.1,19.2L92.9,20.9L91.3,22.4L90.5,23.7L88.5,23.3L86.6,22.4L84.6,21.4L81.4,21.6L81.4,20.4L84.2,20.4L85.0,18.8L85.0,17.4L81.8,16.2L80.2,15.3L76.2,15.7L73.1,15.1L71.5,14.1L72.3,12.0L75.4,11.7L78.6,12.0L81.8,12.7L85.0,13.8L87.8,15.1L89.3,16.7L92.1,18.3ZM50.0,15.1L52.4,16.4L56.4,16.9L59.6,16.7L61.9,16.2L62.7,15.1L59.6,14.1L59.6,12.7L57.2,12.3L54.8,12.8L51.6,12.2L48.8,13.1L48.4,14.1ZM43.7,13.7L45.3,14.4L47.3,14.1L49.2,13.1L50.8,12.2L50.0,11.3L46.9,11.0L44.5,11.7L43.3,12.7ZM79.4,9.1L81.4,8.4L83.4,6.8L86.6,5.5L91.3,4.2L93.7,2.8L88.9,2.1L82.6,2.0L75.4,2.6L70.7,3.7L73.1,4.7L74.7,6.3L73.1,7.3L75.4,8.0L73.1,8.9L76.2,9.1ZM79.4,10.4L77.8,10.9L73.1,11.0L69.9,10.7L69.9,9.2L66.7,8.6L71.5,8.6L74.7,9.7L79.4,9.6ZM73.9,6.3L70.7,7.1L67.5,6.1L67.5,4.7L70.7,4.0L73.1,5.0ZM58.8,10.4L55.6,10.9L51.6,10.7L50.0,9.4L54.0,8.9L57.2,8.9L59.2,9.6ZM65.1,10.4L61.2,10.2L60.4,9.1L63.5,8.6L65.5,9.4ZM65.9,13.6L63.5,14.1L61.9,13.1L62.7,11.7L65.1,11.6ZM71.1,13.1L67.5,13.6L67.1,11.7L69.9,11.4L71.5,12.0ZM50.0,9.1L46.1,9.5L45.3,8.9L48.4,7.9L50.8,8.4ZM67.1,16.7L65.1,16.9L63.9,16.4L65.1,15.7L66.7,15.9ZM79.0,22.4L76.6,23.2L74.7,22.4L73.9,21.4L75.4,20.0L76.6,20.9L78.6,21.6ZM98.9,34.9L98.1,36.0L96.9,37.6L95.9,38.8L98.5,39.2L100.1,40.0L100.9,40.0L101.1,38.9L100.5,37.9L99.7,37.1L98.5,36.5ZM91.7,36.6L93.7,37.5L93.9,37.3L92.5,36.6ZM91.9,39.9L93.7,40.6L93.5,40.2L92.5,39.8ZM41.1,35.7L42.9,37.4L44.9,38.3L44.6,37.3L43.3,36.2L41.9,35.6ZM37.3,32.3L38.8,34.2L38.4,32.9L38.3,32.4ZM20.3,28.7L22.0,28.9L21.8,28.0L21.0,28.2ZM6.6,22.4L8.7,23.0L8.9,22.6L7.5,22.1ZM10.1,25.9L11.4,26.3L11.3,25.7ZM11.9,31.7L13.3,31.5L12.3,31.3ZM9.1,33.2L10.3,32.9L10.9,32.4ZM4.4,34.4L6.0,34.0L4.8,34.0ZM1.6,34.8L3.2,34.7L2.4,34.5ZM75.5,65.9L77.0,64.8L79.0,64.6L81.0,65.5L83.0,67.0L84.0,67.7L81.4,68.0L81.6,67.2L80.6,66.6L79.0,65.8L77.8,65.4L76.6,65.8ZM83.9,69.5L85.4,69.7L86.2,70.3L87.4,69.6L88.6,69.5L87.8,68.6L86.2,68.0L84.7,68.0L85.3,68.9ZM80.8,69.6L82.4,70.1L82.2,69.6L81.2,69.4ZM89.6,69.5L90.8,69.9L90.8,69.5L89.7,69.4ZM93.9,77.7L94.5,78.1L94.5,77.5ZM80.8,62.6L81.2,63.7L81.2,62.6ZM81.4,60.8L81.8,61.3L81.1,60.9ZM94.5,142.5L96.9,142.4L96.5,143.3L94.9,143.3ZM91.5,145.9L92.3,145.9L91.9,146.1ZM84.0,132.5L84.6,133.1L84.4,134.1L83.9,133.6ZM70.3,89.1L70.8,89.7L70.4,89.8ZM19.1,67.7L19.9,68.4L19.3,68.9L19.1,68.2ZM18.5,66.8L19.1,67.1L18.8,67.2ZM17.3,66.2L17.7,66.5L17.4,66.5ZM16.1,65.6L16.4,65.8L16.2,65.9ZM123.7,20.3L125.5,21.6L125.1,22.0L127.1,22.4L128.7,22.4L131.0,21.6L132.1,20.9L131.2,19.7L129.8,19.3L128.3,19.7L126.7,20.2L125.1,19.4ZM138.6,36.4L140.2,36.1L142.2,35.8L144.0,35.3L143.6,35.0L144.3,33.7L143.2,33.4L142.8,32.1L141.8,31.1L141.2,30.3L140.6,30.2L141.4,28.6L139.9,28.5L140.4,27.6L139.0,27.6L138.2,28.7L138.6,30.3L139.1,30.8L139.0,31.5L140.2,31.4L140.6,32.4L140.6,33.0L139.4,33.2L139.6,34.1L138.8,34.7L140.2,35.1L139.4,35.5ZM135.0,34.8L136.6,34.8L137.9,34.1L138.2,32.9L138.5,31.7L137.8,31.1L136.4,31.1L136.2,32.0L135.0,32.2L135.4,33.2L135.2,34.1ZM151.7,6.8L154.1,7.8L156.5,8.7L158.0,7.3L160.0,6.8L157.2,5.7L155.7,5.2L152.5,5.5ZM157.6,5.0L160.4,5.8L164.4,5.2L161.2,4.7ZM159.6,7.8L162.0,8.0L162.0,7.1L160.0,7.1ZM180.3,5.0L184.2,5.3L190.6,4.7L189.0,3.7L182.7,4.2ZM183.8,13.8L185.0,14.8L188.6,15.0L187.0,13.6L187.4,12.3L185.8,12.2ZM186.2,11.8L187.8,12.0L189.8,11.0L193.0,9.7L197.4,8.6L195.4,8.4L190.6,9.2L187.4,10.1ZM181.5,16.4L182.5,16.9L182.9,16.4L182.1,16.1ZM218.4,6.1L221.6,7.3L225.5,7.0L226.3,6.0L222.4,5.2L220.0,4.2L216.8,4.7ZM251.8,10.1L255.7,10.7L258.1,9.9L262.1,10.2L259.7,9.4L254.9,9.2L252.9,9.4ZM254.1,12.1L256.9,12.3L255.7,11.6ZM284.7,14.5L285.9,14.7L285.9,14.1L285.1,14.1ZM255.7,32.1L256.5,33.4L256.8,35.0L257.2,37.1L256.5,39.2L256.9,40.5L255.7,40.7L255.9,38.6L255.7,36.5L255.6,34.5ZM254.1,45.4L255.1,45.1L256.7,44.9L258.5,43.5L257.5,42.8L255.7,41.3L255.4,43.0L254.4,43.6L254.0,44.4ZM255.3,45.5L255.7,47.5L254.9,49.1L254.8,51.2L254.1,52.2L253.2,52.5L251.8,52.6L251.6,53.0L250.8,53.8L250.2,52.7L248.6,52.9L247.0,53.4L247.0,52.7L248.2,51.8L249.4,51.6L251.0,51.5L251.6,50.3L252.0,49.6L252.9,49.8L253.7,48.6L254.1,47.0L254.4,45.7ZM247.9,53.8L248.6,54.5L249.8,53.5L249.0,53.0ZM246.0,54.0L246.4,56.2L247.2,56.0L247.7,54.5L247.0,53.5ZM239.0,62.4L238.4,64.2L238.9,65.8L239.4,64.2L239.8,62.6ZM229.3,68.6L229.9,69.7L230.7,69.1L231.1,68.2L230.3,67.8ZM238.6,69.4L240.0,69.4L240.1,71.5L239.4,73.1L240.2,74.1L241.4,75.2L241.0,75.4L239.8,74.3L238.9,74.3L238.4,73.3L238.2,71.8ZM239.8,81.4L241.0,80.7L241.0,79.8L242.6,78.6L243.4,80.4L243.2,82.2L242.6,82.8L241.4,82.3L240.9,81.0ZM241.0,76.7L241.8,75.7L242.6,75.9L242.8,77.3L242.2,78.2L241.4,78.1L240.9,78.9L240.2,78.3L239.8,76.4L240.6,76.6ZM236.0,80.0L237.9,77.8L237.7,77.0L236.7,78.8ZM238.6,74.8L239.4,75.1L239.2,75.9ZM229.5,87.2L230.3,87.0L231.3,86.1L232.7,85.4L233.9,83.8L235.1,82.3L235.9,81.4L237.1,83.0L236.5,84.3L236.7,86.1L236.7,87.7L236.3,88.8L235.5,90.3L235.3,92.4L233.9,92.9L232.7,92.1L231.5,92.1L230.5,90.8L229.7,89.3ZM218.6,82.9L220.4,83.3L221.6,84.9L222.8,86.5L224.0,87.7L225.1,88.8L225.9,90.8L227.1,91.9L227.0,94.8L225.9,94.6L224.4,93.1L223.2,91.4L222.2,89.3L221.2,87.2L220.0,85.6L218.8,83.7ZM226.5,95.5L227.5,95.0L229.1,95.5L230.7,95.9L232.5,96.0L233.8,96.9L233.8,97.7L231.9,97.5L229.9,96.9L228.3,96.8L226.7,96.1ZM234.3,97.3L235.9,97.4L237.5,97.4L237.1,98.0L235.1,98.0ZM238.1,97.5L240.6,97.3L240.5,97.9L238.2,98.0ZM241.0,99.5L242.2,98.1L244.0,97.5L243.4,98.4L241.8,99.4ZM237.5,98.7L238.9,99.0L238.2,99.5ZM238.1,87.9L239.0,87.4L240.6,87.8L242.2,87.1L241.8,88.3L239.4,88.2L238.5,89.6L239.4,89.8L240.9,89.6L239.8,90.6L240.5,92.9L240.0,93.8L239.4,92.4L238.6,91.7L238.6,94.5L237.9,94.5L237.8,92.4L237.3,91.6L238.0,89.3ZM244.2,86.9L244.6,88.2L245.0,89.6L244.6,87.9L245.2,87.2ZM244.6,91.9L246.8,92.1L245.8,92.4ZM243.0,92.1L244.0,92.3L243.4,92.7ZM247.0,89.6L248.2,89.2L249.4,89.6L250.2,92.2L252.1,90.4L254.9,91.5L257.7,92.7L258.9,94.5L260.3,95.2L259.9,96.3L260.9,98.1L262.6,99.6L260.5,99.4L258.9,97.4L257.7,96.8L256.5,98.4L254.9,98.3L253.3,97.2L252.5,97.5L253.2,96.1L252.5,94.5L250.2,93.3L248.6,93.0L248.4,91.7L249.5,92.7L249.1,91.2L247.9,91.0L247.0,90.1ZM260.7,94.6L262.5,94.5L263.8,93.1L263.8,94.0L262.9,95.0ZM262.7,91.5L264.3,92.9L264.5,93.7L263.7,92.4ZM265.8,94.5L266.8,95.9L266.2,95.5ZM269.6,98.5L270.7,99.1L270.0,99.0ZM270.6,97.5L271.2,98.8L270.8,98.1ZM206.3,78.7L207.4,79.9L207.9,81.4L207.3,82.3L206.6,82.5L206.3,80.9ZM182.1,101.3L182.9,104.9L182.3,107.0L181.5,110.2L180.5,114.6L178.9,115.4L177.9,114.6L177.3,112.0L178.2,109.6L177.9,107.0L178.7,105.5L180.3,104.7L181.3,103.1ZM152.9,49.1L155.3,48.9L154.9,50.4L153.7,49.9ZM149.5,45.9L150.6,45.9L150.6,47.8L149.7,48.0ZM149.9,44.4L150.5,44.1L150.4,45.4L149.9,45.3ZM161.7,51.7L163.8,52.0L163.6,52.2L161.7,52.0ZM168.6,52.2L170.3,51.6L169.6,52.5ZM144.9,47.4L145.6,47.2L145.3,47.7ZM151.8,30.6L152.9,30.3L152.7,31.3L151.9,31.1ZM157.4,29.0L158.0,28.3L157.9,28.8ZM129.6,59.2L130.1,59.0L129.8,59.5ZM131.6,59.4L132.0,58.8L131.9,59.3ZM124.1,73.0L124.4,72.9L124.3,73.2ZM185.4,75.6L186.2,75.6L185.8,75.9ZM177.3,100.8L177.5,101.1L177.3,101.2ZM186.9,110.7L187.3,110.9L187.0,111.1ZM188.5,109.7L188.9,109.9L188.6,110.2ZM197.6,139.9L198.9,140.1L198.1,140.6ZM137.2,23.8L137.8,23.7L137.5,24.2ZM141.8,25.6L142.2,25.8L141.9,26.2ZM258.9,42.3L260.9,41.2L259.7,41.8ZM262.1,40.7L263.7,39.5L262.9,39.9ZM265.6,37.3L266.8,36.0L266.3,36.5ZM274.6,31.0L275.2,31.5L274.9,31.0ZM272.8,27.1L273.6,27.6L273.2,26.9ZM244.4,61.1L244.8,60.8L244.5,61.4ZM216.6,74.7L216.8,76.2L216.5,76.5ZM217.4,81.2L217.5,81.7L217.3,81.5ZM220.1,87.3L220.7,88.1L220.3,87.8ZM226.6,90.6L227.7,91.4L227.1,91.9ZM233.1,111.7L233.6,111.5L235.1,110.5L237.1,109.9L239.0,109.3L240.1,107.5L240.1,106.5L241.2,106.0L242.2,104.4L243.7,103.4L244.8,104.4L245.8,104.3L246.2,102.3L247.0,101.5L248.3,100.6L250.2,101.5L251.6,101.3L251.0,102.8L250.6,104.4L252.1,105.5L253.7,107.0L254.8,107.0L255.5,104.4L255.4,102.1L256.1,100.0L256.9,101.8L257.2,103.7L258.3,104.4L258.9,107.0L259.1,108.6L260.5,109.6L261.7,111.7L262.7,113.0L264.5,115.4L264.9,118.0L264.5,120.6L264.1,122.5L263.1,124.0L262.3,126.3L262.1,127.9L260.5,128.3L259.1,129.5L257.9,128.6L256.9,129.3L255.3,128.7L254.1,127.9L253.7,126.1L252.7,125.9L252.5,123.7L252.1,125.5L251.0,125.1L250.6,124.8L249.5,123.0L247.8,122.2L245.4,121.7L243.0,122.5L241.4,123.4L240.9,124.1L238.2,124.1L236.7,125.3L235.1,125.2L234.3,124.6L234.8,122.7L234.4,120.6L233.6,118.0L233.1,115.9L233.6,116.1L233.1,114.3ZM257.9,131.2L259.3,131.7L260.7,131.5L260.6,133.1L259.7,134.3L258.9,134.2L258.3,132.9ZM280.1,124.7L281.4,125.8L282.3,127.2L283.0,128.0L284.7,128.1L284.2,129.7L283.5,130.0L283.1,131.4L282.1,132.2L281.8,131.9L282.1,130.7L281.0,129.9L281.7,129.3L281.8,127.9L281.1,126.5ZM280.1,131.0L281.3,131.9L280.3,133.6L280.2,134.6L278.9,135.2L278.4,136.8L277.0,137.4L275.3,136.8L276.0,135.4L277.2,134.5L278.8,133.1L279.4,132.1ZM276.1,137.7L276.5,137.7L276.3,138.0ZM273.2,109.7L275.2,111.3L275.6,112.0L274.4,111.3ZM275.3,104.4L275.7,105.1L275.4,105.0ZM276.5,107.1L276.8,107.3L276.6,107.4ZM283.8,107.0L284.8,107.2L284.3,107.8L283.8,107.5ZM284.9,106.0L285.9,105.7L285.3,106.3ZM246.4,100.7L247.4,100.7L247.0,101.1ZM251.4,103.2L251.7,103.4L251.4,103.6ZM251.4,126.1L252.5,126.1L252.0,126.4Z" fill="none" stroke="#000" stroke-width="1.3" stroke-linejoin="round"/><path d="M44.5,19.8L46.9,18.8L49.2,19.5L47.6,20.7ZM50.0,25.1L52.4,23.5L56.0,23.2L54.0,24.5ZM54.8,27.4L58.8,26.6L56.4,26.8ZM64.3,32.6L65.5,32.4L66.5,35.5L65.7,36.0ZM69.9,39.9L72.3,38.1L75.4,39.2L75.4,40.1L73.1,39.9ZM75.8,40.7L78.6,40.9L79.4,42.3L77.6,43.6L76.6,42.3ZM53.2,45.3L53.8,45.3L53.8,46.3L53.2,46.3ZM74.7,76.3L75.4,77.1L75.2,76.4ZM87.4,104.9L88.2,105.8L87.9,105.0ZM189.4,41.8L190.6,40.2L191.8,41.2L190.6,43.1ZM201.6,41.2L203.3,40.1L205.7,40.2L203.3,40.5ZM225.5,34.9L227.9,33.4L230.1,30.7L228.3,33.2ZM167.0,25.6L168.0,24.4L169.0,25.4L168.0,26.1ZM170.3,25.1L171.1,23.5L171.8,24.5ZM152.9,27.7L153.9,26.9L153.5,27.6ZM204.1,44.6L205.1,44.3L204.5,44.4ZM172.3,75.9L172.8,76.2L172.5,76.6ZM165.0,119.0L165.7,119.3L165.3,119.8Z" fill="#000" stroke="#000" stroke-width="0.7"/><path d="M50.0,15.1L52.4,16.4L56.4,16.9L59.6,16.7L61.9,16.2L62.7,15.1L59.6,14.1L59.6,12.7L57.2,12.3L54.8,12.8L51.6,12.2L48.8,13.1L48.4,14.1ZM43.7,13.7L45.3,14.4L47.3,14.1L49.2,13.1L50.8,12.2L50.0,11.3L46.9,11.0L44.5,11.7L43.3,12.7ZM79.4,9.1L81.4,8.4L83.4,6.8L86.6,5.5L91.3,4.2L93.7,2.8L88.9,2.1L82.6,2.0L75.4,2.6L70.7,3.7L73.1,4.7L74.7,6.3L73.1,7.3L75.4,8.0L73.1,8.9L76.2,9.1ZM79.4,10.4L77.8,10.9L73.1,11.0L69.9,10.7L69.9,9.2L66.7,8.6L71.5,8.6L74.7,9.7L79.4,9.6ZM73.9,6.3L70.7,7.1L67.5,6.1L67.5,4.7L70.7,4.0L73.1,5.0ZM58.8,10.4L55.6,10.9L51.6,10.7L50.0,9.4L54.0,8.9L57.2,8.9L59.2,9.6ZM65.1,10.4L61.2,10.2L60.4,9.1L63.5,8.6L65.5,9.4ZM65.9,13.6L63.5,14.1L61.9,13.1L62.7,11.7L65.1,11.6ZM71.1,13.1L67.5,13.6L67.1,11.7L69.9,11.4L71.5,12.0ZM50.0,9.1L46.1,9.5L45.3,8.9L48.4,7.9L50.8,8.4ZM67.1,16.7L65.1,16.9L63.9,16.4L65.1,15.7L66.7,15.9ZM79.0,22.4L76.6,23.2L74.7,22.4L73.9,21.4L75.4,20.0L76.6,20.9L78.6,21.6Z" fill="none" stroke="#000" stroke-width="1.4" stroke-linejoin="round"/><path d="M90.9,69.6L92.9,70.0L93.9,71.0L94.2,72.6L94.5,73.6L94.3,75.2L94.0,76.2L94.3,77.5M258.5,43.0L260.5,41.5L262.5,40.2L264.1,39.1L265.9,37.1L267.1,35.7M75.5,65.9L77.0,64.9L79.0,64.7L81.0,65.6L83.0,67.2L84.0,67.7M83.9,69.3L85.8,68.7L87.4,69.0L88.6,69.4M80.6,61.0L81.6,62.1L82.6,63.7L83.4,64.7M77.8,7.3L73.1,6.7L68.3,7.0L63.5,6.5L60.4,6.3M87.4,13.6L83.4,14.6L79.4,14.1M71.5,4.9L77.8,5.7L82.6,6.1M74.7,7.3L79.4,7.7M75.4,3.6L83.4,4.2L88.9,3.6M87.4,17.8L90.5,19.2M85.8,19.8L88.9,21.3M76.2,13.6L79.4,12.9M266.0,95.3L268.0,96.9L270.0,98.5L271.6,99.7M275.2,103.4L276.0,105.5L276.8,107.3L277.6,109.1M273.2,109.7L274.4,111.0L275.6,112.0M83.4,17.8L85.8,15.9L88.9,15.7M122.3,14.6L124.7,13.8L122.3,12.5L125.5,11.2L123.1,9.9L126.3,8.4M101.7,15.1L102.8,16.7L101.7,18.3" fill="none" stroke="#000" stroke-width="1.3" stroke-linejoin="round" stroke-linecap="round"/><path d="M273.6,30.0L276.4,31.5L279.5,33.2L282.7,34.2L285.9,35.2M12.1,31.7L10.3,32.7L8.7,33.5L6.4,34.1L4.4,34.4L2.4,34.7L0.0,35.1" fill="none" stroke="#000" stroke-width="1.2" stroke-dasharray="1.6 1.4"/><g fill="#000"><circle cx="135.0" cy="130.8" r="0.8"/><circle cx="145.7" cy="145.6" r="0.8"/><circle cx="201.3" cy="144.1" r="0.8"/><circle cx="136.2" cy="14.6" r="0.8"/><circle cx="6.4" cy="91.9" r="0.8"/><circle cx="7.1" cy="98.4" r="0.8"/><circle cx="1.2" cy="107.5" r="0.8"/><circle cx="4.8" cy="109.1" r="0.8"/><circle cx="6.4" cy="103.2" r="0.8"/><circle cx="24.2" cy="107.1" r="0.8"/><circle cx="17.9" cy="86.7" r="0.8"/><circle cx="4.0" cy="110.7" r="0.8"/><circle cx="16.0" cy="110.9" r="0.8"/><circle cx="31.8" cy="98.1" r="0.8"/><circle cx="56.1" cy="117.0" r="0.8"/><circle cx="122.3" cy="149.8" r="0.8"/><circle cx="113.6" cy="145.4" r="0.8"/><circle cx="133.2" cy="127.5" r="0.8"/><circle cx="122.7" cy="49.3" r="0.8"/><circle cx="120.7" cy="48.6" r="0.8"/><circle cx="129.4" cy="54.6" r="0.8"/><circle cx="200.4" cy="96.4" r="0.8"/><circle cx="219.8" cy="101.5" r="0.8"/><circle cx="226.9" cy="99.7" r="0.8"/><circle cx="249.8" cy="81.0" r="0.8"/><circle cx="257.9" cy="74.7" r="0.8"/><circle cx="258.7" cy="72.9" r="0.8"/><circle cx="268.6" cy="81.5" r="0.8"/><circle cx="275.6" cy="79.4" r="0.8"/><circle cx="278.9" cy="81.3" r="0.8"/><circle cx="280.3" cy="87.3" r="0.8"/><circle cx="285.3" cy="97.6" r="0.8"/><circle cx="275.5" cy="89.3" r="0.8"/><circle cx="91.6" cy="55.0" r="0.8"/><circle cx="94.1" cy="72.0" r="0.8"/><circle cx="94.5" cy="73.5" r="0.8"/><circle cx="94.6" cy="74.2" r="0.8"/><circle cx="95.7" cy="75.0" r="0.8"/><circle cx="94.3" cy="72.7" r="0.8"/><circle cx="88.2" cy="76.0" r="0.8"/><circle cx="78.4" cy="68.6" r="0.8"/><circle cx="187.0" cy="93.6" r="0.8"/><circle cx="178.8" cy="102.1" r="0.8"/><circle cx="277.2" cy="119.0" r="0.8"/><circle cx="269.2" cy="121.6" r="0.8"/><circle cx="1.6" cy="120.1" r="0.8"/><circle cx="2.8" cy="134.7" r="0.8"/><circle cx="274.8" cy="141.7" r="0.8"/><circle cx="269.1" cy="145.8" r="0.8"/><circle cx="173.0" cy="137.6" r="0.8"/><circle cx="184.1" cy="137.2" r="0.8"/><circle cx="80.4" cy="123.9" r="0.8"/><circle cx="71.2" cy="89.4" r="0.8"/><circle cx="71.9" cy="89.6" r="0.8"/><ellipse cx="191.0" cy="41.7" rx="1.2" ry="1.9"/><circle cx="182.8" cy="41.9" r="0.55" fill="#555"/><circle cx="185.2" cy="48" r="0.55" fill="#555"/></g></g></defs>
<rect width="603" height="454" fill="#fff"/>
<g transform="translate(0.6,23.0)">
<g clip-path="url(#box)"><g clip-path="url(#land)" shape-rendering="crispEdges">
<path d="M59.6,26.1L9.5,26.1L9.5,13.0L59.6,13.0Z" fill="#369c24"/>
<path d="M90.2,109.6L79.6,90.0L88.3,76.8L103.2,76.8L103.2,109.6Z" fill="#00bfff"/>
<path d="M88.3,76.8L79.6,90.0L49.0,60.1L71.2,60.1Z" fill="#628a03"/>
<path d="M190.6,57.4L190.6,36.5L202.5,36.5L202.5,57.4Z" fill="#be8c03"/>
<path d="M135.0,41.8L135.0,38.6L174.7,24.7L174.7,41.8Z" fill="#00ffff"/>
<path d="M135.0,36.5L59.6,36.5L59.6,0.0L135.0,0.0Z" fill="#898906"/>
<path d="M75.4,36.5L75.4,60.1L59.6,60.1L59.6,36.5Z" fill="#005dff"/>
<path d="M162.8,101.7L162.8,73.1L184.2,73.1L184.2,101.7Z" fill="#808806"/>
<path d="M222.4,67.9L222.4,36.5L258.1,36.5L258.1,67.9Z" fill="#ff8803"/>
<path d="M95.3,62.6L75.4,62.6L75.4,36.5L95.3,36.5Z" fill="#00ffff"/>
<path d="M135.0,57.4L135.0,41.8L174.7,41.8L174.7,57.4Z" fill="#ff8803"/>
<path d="M174.7,36.5L174.7,15.7L285.9,15.7L285.9,36.5Z" fill="#ff8803"/>
<path d="M230.3,120.1L230.3,99.2L266.0,99.2L266.0,120.1Z" fill="#0000ff"/>
<path d="M115.9,109.6L103.2,109.6L103.2,88.8L115.9,88.8Z" fill="#349f2b"/>
<path d="M135.0,38.6L135.0,10.4L174.7,10.4L174.7,24.7Z" fill="#00ffff"/>
<path d="M135.0,125.3L135.0,101.7L184.2,101.7L184.2,125.3Z" fill="#628a03"/>
<path d="M127.1,73.1L127.1,57.4L174.7,57.4L174.7,73.1Z" fill="#ff2804"/>
<path d="M190.6,83.5L190.6,57.4L222.4,57.4L222.4,67.9L218.4,67.9L218.4,83.5Z" fill="#349f2b"/>
<path d="M230.3,141.0L230.3,120.1L285.9,120.1L285.9,141.0Z" fill="#0becbc"/>
<path d="M111.7,109.6L111.7,148.0L89.5,148.0L85.7,141.0L90.2,109.6Z" fill="#808806"/>
<path d="M218.4,99.2L218.4,67.9L266.0,67.9L266.0,99.2Z" fill="#808806"/>
<path d="M202.5,57.4L202.5,36.5L222.4,36.5L222.4,57.4Z" fill="#ff5008"/>
<path d="M127.1,101.7L127.1,73.1L162.8,73.1L162.8,101.7Z" fill="#808806"/>
<path d="M174.7,73.1L174.7,36.5L190.6,36.5L190.6,73.1Z" fill="#ff8803"/>
<path d="M80.2,90.0L90.8,109.6L86.2,141.0L89.5,148.0L77.8,148.0L77.8,88.2Z" fill="#0000ff"/>
<path d="M59.6,60.1L39.7,60.1L39.7,26.1L59.6,26.1Z" fill="#cc8f03"/>
</g><use href="#coast"/></g>
<rect x="0" y="0" width="285.9" height="151.4" fill="none" stroke="#000" stroke-width="1.2"/>
<text x="141.9" y="-10.3" text-anchor="middle" font-size="16.75" font-weight="bold">50% probability, RCP4.5</text>
</g>
<g transform="translate(316.8,23.0)">
<g clip-path="url(#box)"><g clip-path="url(#land)" shape-rendering="crispEdges">
<path d="M59.6,26.1L9.5,26.1L9.5,13.0L59.6,13.0Z" fill="#458b00"/>
<path d="M90.2,109.6L79.6,90.0L88.3,76.8L103.2,76.8L103.2,109.6Z" fill="#3c9516"/>
<path d="M88.3,76.8L79.6,90.0L49.0,60.1L71.2,60.1Z" fill="#938905"/>
<path d="M190.6,57.4L190.6,36.5L202.5,36.5L202.5,57.4Z" fill="#c78e03"/>
<path d="M135.0,41.8L135.0,38.6L174.7,24.7L174.7,41.8Z" fill="#808806"/>
<path d="M135.0,36.5L59.6,36.5L59.6,0.0L135.0,0.0Z" fill="#ec9603"/>
<path d="M75.4,36.5L75.4,60.1L59.6,60.1L59.6,36.5Z" fill="#16da94"/>
<path d="M162.8,101.7L162.8,73.1L184.2,73.1L184.2,101.7Z" fill="#ff8803"/>
<path d="M222.4,67.9L222.4,36.5L258.1,36.5L258.1,67.9Z" fill="#ff8803"/>
<path d="M95.3,62.6L75.4,62.6L75.4,36.5L95.3,36.5Z" fill="#628a03"/>
<path d="M135.0,57.4L135.0,41.8L174.7,41.8L174.7,57.4Z" fill="#ff8803"/>
<path d="M174.7,36.5L174.7,15.7L285.9,15.7L285.9,36.5Z" fill="#ff8803"/>
<path d="M230.3,120.1L230.3,99.2L266.0,99.2L266.0,120.1Z" fill="#0000ff"/>
<path d="M115.9,109.6L103.2,109.6L103.2,88.8L115.9,88.8Z" fill="#748905"/>
<path d="M135.0,38.6L135.0,10.4L174.7,10.4L174.7,24.7Z" fill="#3c9516"/>
<path d="M135.0,125.3L135.0,101.7L184.2,101.7L184.2,125.3Z" fill="#938905"/>
<path d="M127.1,73.1L127.1,57.4L174.7,57.4L174.7,73.1Z" fill="#ff640a"/>
<path d="M190.6,83.5L190.6,57.4L222.4,57.4L222.4,67.9L218.4,67.9L218.4,83.5Z" fill="#9f8a04"/>
<path d="M230.3,141.0L230.3,120.1L285.9,120.1L285.9,141.0Z" fill="#518a01"/>
<path d="M111.7,109.6L111.7,148.0L89.5,148.0L85.7,141.0L90.2,109.6Z" fill="#be8c03"/>
<path d="M218.4,99.2L218.4,67.9L266.0,67.9L266.0,99.2Z" fill="#fb8b03"/>
<path d="M202.5,57.4L202.5,36.5L222.4,36.5L222.4,57.4Z" fill="#ff640a"/>
<path d="M127.1,101.7L127.1,73.1L162.8,73.1L162.8,101.7Z" fill="#ff8803"/>
<path d="M174.7,73.1L174.7,36.5L190.6,36.5L190.6,73.1Z" fill="#ff8803"/>
<path d="M80.2,90.0L90.8,109.6L86.2,141.0L89.5,148.0L77.8,148.0L77.8,88.2Z" fill="#001cff"/>
<path d="M59.6,60.1L39.7,60.1L39.7,26.1L59.6,26.1Z" fill="#f09303"/>
</g><use href="#coast"/></g>
<rect x="0" y="0" width="285.9" height="151.4" fill="none" stroke="#000" stroke-width="1.2"/>
<text x="141.9" y="-10.3" text-anchor="middle" font-size="16.75" font-weight="bold">50% probability, RCP8.5</text>
</g>
<g transform="translate(0.6,218.6)">
<g clip-path="url(#box)"><g clip-path="url(#land)" shape-rendering="crispEdges">
<path d="M59.6,26.1L9.5,26.1L9.5,13.0L59.6,13.0Z" fill="#0000ff"/>
<path d="M90.2,109.6L79.6,90.0L88.3,76.8L103.2,76.8L103.2,109.6Z" fill="#0000ff"/>
<path d="M88.3,76.8L79.6,90.0L49.0,60.1L71.2,60.1Z" fill="#00bfff"/>
<path d="M190.6,57.4L190.6,36.5L202.5,36.5L202.5,57.4Z" fill="#00cbff"/>
<path d="M135.0,41.8L135.0,38.6L174.7,24.7L174.7,41.8Z" fill="#0000ff"/>
<path d="M135.0,36.5L59.6,36.5L59.6,0.0L135.0,0.0Z" fill="#008dff"/>
<path d="M75.4,36.5L75.4,60.1L59.6,60.1L59.6,36.5Z" fill="#0000ff"/>
<path d="M162.8,101.7L162.8,73.1L184.2,73.1L184.2,101.7Z" fill="#3c9516"/>
<path d="M222.4,67.9L222.4,36.5L258.1,36.5L258.1,67.9Z" fill="#938905"/>
<path d="M95.3,62.6L75.4,62.6L75.4,36.5L95.3,36.5Z" fill="#0000ff"/>
<path d="M135.0,57.4L135.0,41.8L174.7,41.8L174.7,57.4Z" fill="#748905"/>
<path d="M174.7,36.5L174.7,15.7L285.9,15.7L285.9,36.5Z" fill="#628a03"/>
<path d="M230.3,120.1L230.3,99.2L266.0,99.2L266.0,120.1Z" fill="#0000ff"/>
<path d="M115.9,109.6L103.2,109.6L103.2,88.8L115.9,88.8Z" fill="#0085ff"/>
<path d="M135.0,38.6L135.0,10.4L174.7,10.4L174.7,24.7Z" fill="#0000ff"/>
<path d="M135.0,125.3L135.0,101.7L184.2,101.7L184.2,125.3Z" fill="#002aff"/>
<path d="M127.1,73.1L127.1,57.4L174.7,57.4L174.7,73.1Z" fill="#c78e03"/>
<path d="M190.6,83.5L190.6,57.4L222.4,57.4L222.4,67.9L218.4,67.9L218.4,83.5Z" fill="#001cff"/>
<path d="M230.3,141.0L230.3,120.1L285.9,120.1L285.9,141.0Z" fill="#0000ff"/>
<path d="M111.7,109.6L111.7,148.0L89.5,148.0L85.7,141.0L90.2,109.6Z" fill="#0000ff"/>
<path d="M218.4,99.2L218.4,67.9L266.0,67.9L266.0,99.2Z" fill="#16da94"/>
<path d="M202.5,57.4L202.5,36.5L222.4,36.5L222.4,57.4Z" fill="#ec9603"/>
<path d="M127.1,101.7L127.1,73.1L162.8,73.1L162.8,101.7Z" fill="#12e1a4"/>
<path d="M174.7,73.1L174.7,36.5L190.6,36.5L190.6,73.1Z" fill="#ab8b04"/>
<path d="M80.2,90.0L90.8,109.6L86.2,141.0L89.5,148.0L77.8,148.0L77.8,88.2Z" fill="#0000ff"/>
<path d="M59.6,60.1L39.7,60.1L39.7,26.1L59.6,26.1Z" fill="#00f0ff"/>
</g><use href="#coast"/></g>
<rect x="0" y="0" width="285.9" height="151.4" fill="none" stroke="#000" stroke-width="1.2"/>
<text x="141.9" y="-10.3" text-anchor="middle" font-size="16.75" font-weight="bold">90% probability, RCP4.5</text>
</g>
<g transform="translate(316.8,218.6)">
<g clip-path="url(#box)"><g clip-path="url(#land)" shape-rendering="crispEdges">
<path d="M59.6,26.1L9.5,26.1L9.5,13.0L59.6,13.0Z" fill="#09f0c4"/>
<path d="M90.2,109.6L79.6,90.0L88.3,76.8L103.2,76.8L103.2,109.6Z" fill="#0095ff"/>
<path d="M88.3,76.8L79.6,90.0L49.0,60.1L71.2,60.1Z" fill="#39981d"/>
<path d="M190.6,57.4L190.6,36.5L202.5,36.5L202.5,57.4Z" fill="#4b8b01"/>
<path d="M135.0,41.8L135.0,38.6L174.7,24.7L174.7,41.8Z" fill="#00ebff"/>
<path d="M135.0,36.5L59.6,36.5L59.6,0.0L135.0,0.0Z" fill="#3c9516"/>
<path d="M75.4,36.5L75.4,60.1L59.6,60.1L59.6,36.5Z" fill="#0046ff"/>
<path d="M162.8,101.7L162.8,73.1L184.2,73.1L184.2,101.7Z" fill="#9f8a04"/>
<path d="M222.4,67.9L222.4,36.5L258.1,36.5L258.1,67.9Z" fill="#c78e03"/>
<path d="M95.3,62.6L75.4,62.6L75.4,36.5L95.3,36.5Z" fill="#00ffe9"/>
<path d="M135.0,57.4L135.0,41.8L174.7,41.8L174.7,57.4Z" fill="#c78e03"/>
<path d="M174.7,36.5L174.7,15.7L285.9,15.7L285.9,36.5Z" fill="#c78e03"/>
<path d="M230.3,120.1L230.3,99.2L266.0,99.2L266.0,120.1Z" fill="#0000ff"/>
<path d="M115.9,109.6L103.2,109.6L103.2,88.8L115.9,88.8Z" fill="#1dc876"/>
<path d="M135.0,38.6L135.0,10.4L174.7,10.4L174.7,24.7Z" fill="#00b5ff"/>
<path d="M135.0,125.3L135.0,101.7L184.2,101.7L184.2,125.3Z" fill="#1dc876"/>
<path d="M127.1,73.1L127.1,57.4L174.7,57.4L174.7,73.1Z" fill="#ff8803"/>
<path d="M190.6,83.5L190.6,57.4L222.4,57.4L222.4,67.9L218.4,67.9L218.4,83.5Z" fill="#00ffe9"/>
<path d="M230.3,141.0L230.3,120.1L285.9,120.1L285.9,141.0Z" fill="#00f0ff"/>
<path d="M111.7,109.6L111.7,148.0L89.5,148.0L85.7,141.0L90.2,109.6Z" fill="#2ba941"/>
<path d="M218.4,99.2L218.4,67.9L266.0,67.9L266.0,99.2Z" fill="#3c9516"/>
<path d="M202.5,57.4L202.5,36.5L222.4,36.5L222.4,57.4Z" fill="#ff8803"/>
<path d="M127.1,101.7L127.1,73.1L162.8,73.1L162.8,101.7Z" fill="#7a8805"/>
<path d="M174.7,73.1L174.7,36.5L190.6,36.5L190.6,73.1Z" fill="#c38d03"/>
<path d="M80.2,90.0L90.8,109.6L86.2,141.0L89.5,148.0L77.8,148.0L77.8,88.2Z" fill="#0000ff"/>
<path d="M59.6,60.1L39.7,60.1L39.7,26.1L59.6,26.1Z" fill="#28ac48"/>
</g><use href="#coast"/></g>
<rect x="0" y="0" width="285.9" height="151.4" fill="none" stroke="#000" stroke-width="1.2"/>
<text x="141.9" y="-10.3" text-anchor="middle" font-size="16.75" font-weight="bold">90% probability, RCP8.5</text>
</g>
<rect x="330.40" y="404.3" width="17.49" height="19.4" fill="#ff0000"/>
<rect x="347.59" y="404.3" width="17.49" height="19.4" fill="#ff3205"/>
<rect x="364.79" y="404.3" width="17.49" height="19.4" fill="#ff640a"/>
<rect x="381.98" y="404.3" width="17.49" height="19.4" fill="#ff8803"/>
<rect x="399.17" y="404.3" width="17.49" height="19.4" fill="#ec9603"/>
<rect x="416.37" y="404.3" width="17.49" height="19.4" fill="#be8c03"/>
<rect x="433.56" y="404.3" width="17.49" height="19.4" fill="#808806"/>
<rect x="450.75" y="404.3" width="17.49" height="19.4" fill="#458b00"/>
<rect x="467.95" y="404.3" width="17.49" height="19.4" fill="#28ac48"/>
<rect x="485.14" y="404.3" width="17.49" height="19.4" fill="#16da94"/>
<rect x="502.33" y="404.3" width="17.49" height="19.4" fill="#00ffe4"/>
<rect x="519.53" y="404.3" width="17.49" height="19.4" fill="#00e9ff"/>
<rect x="536.72" y="404.3" width="17.49" height="19.4" fill="#00adff"/>
<rect x="553.91" y="404.3" width="17.49" height="19.4" fill="#005dff"/>
<rect x="571.11" y="404.3" width="17.19" height="19.4" fill="#0000ff"/>
<rect x="330.4" y="404.3" width="257.9" height="19.4" fill="none" stroke="#000" stroke-width="1.2"/>
<line x1="343.5" y1="423.7" x2="343.5" y2="432.6" stroke="#000" stroke-width="1.2"/>
<text x="343.5" y="454.4" text-anchor="middle" font-size="13.8">2010</text>
<line x1="384.3" y1="423.7" x2="384.3" y2="432.6" stroke="#000" stroke-width="1.2"/>
<line x1="425.1" y1="423.7" x2="425.1" y2="432.6" stroke="#000" stroke-width="1.2"/>
<text x="425.1" y="454.4" text-anchor="middle" font-size="13.8">2030</text>
<line x1="465.9" y1="423.7" x2="465.9" y2="432.6" stroke="#000" stroke-width="1.2"/>
<line x1="506.7" y1="423.7" x2="506.7" y2="432.6" stroke="#000" stroke-width="1.2"/>
<text x="506.7" y="454.4" text-anchor="middle" font-size="13.8">2050</text>
<line x1="547.5" y1="423.7" x2="547.5" y2="432.6" stroke="#000" stroke-width="1.2"/>
<line x1="588.3" y1="423.7" x2="588.3" y2="432.6" stroke="#000" stroke-width="1.2"/>
<text x="588.3" y="454.4" text-anchor="middle" font-size="13.8">2070</text>
</svg></body></html>
